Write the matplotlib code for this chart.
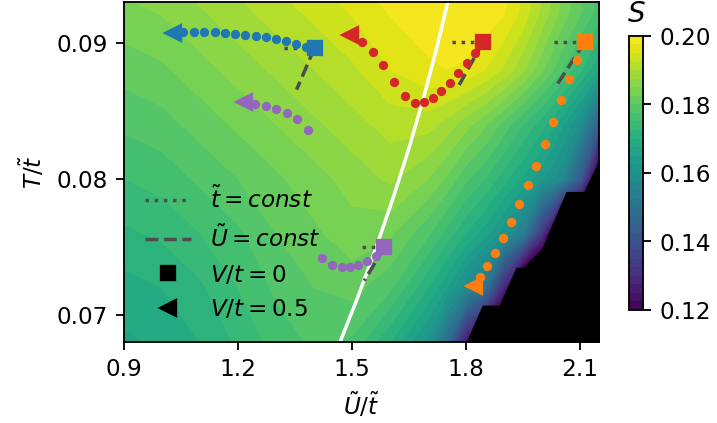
import numpy as np
import matplotlib
matplotlib.use('Agg')
import matplotlib.pyplot as plt
from matplotlib.lines import Line2D

# entropy map S(U/t, T/t) (rows = T, columns = U)
U_grid = [0.9, 1.0, 1.1, 1.2, 1.3, 1.4, 1.5, 1.6, 1.7, 1.75, 1.8, 1.85, 1.9,
          1.95, 2.0, 2.05, 2.1, 2.15, 2.2]
T_grid = [0.068, 0.072, 0.076, 0.080, 0.084, 0.088, 0.092, 0.096]
S_grid = [
    [0.167, 0.168, 0.170, 0.173, 0.176, 0.178, 0.177, 0.170, 0.161, 0.148, 0.124, 0.110, 0.100,
     0.090, 0.080, 0.070, 0.070, 0.070, 0.070],
    [0.169, 0.170, 0.172, 0.175, 0.178, 0.180, 0.181, 0.178, 0.170, 0.165, 0.158, 0.150, 0.128,
     0.100, 0.090, 0.090, 0.090, 0.090, 0.090],
    [0.172, 0.173, 0.175, 0.177, 0.180, 0.182, 0.184, 0.183, 0.178, 0.174, 0.170, 0.166, 0.161,
     0.154, 0.132, 0.100, 0.090, 0.090, 0.090],
    [0.175, 0.176, 0.178, 0.180, 0.182, 0.184, 0.186, 0.188, 0.185, 0.182, 0.178, 0.175, 0.171,
     0.167, 0.163, 0.158, 0.143, 0.110, 0.100],
    [0.178, 0.179, 0.181, 0.183, 0.185, 0.187, 0.189, 0.191, 0.191, 0.189, 0.186, 0.183, 0.179,
     0.175, 0.171, 0.166, 0.159, 0.143, 0.115],
    [0.181, 0.182, 0.184, 0.186, 0.188, 0.190, 0.192, 0.195, 0.197, 0.1975, 0.197, 0.195, 0.192,
     0.188, 0.183, 0.178, 0.173, 0.167, 0.157],
    [0.184, 0.185, 0.187, 0.189, 0.191, 0.193, 0.195, 0.1975, 0.199, 0.1993, 0.1993, 0.199, 0.1975,
     0.194, 0.189, 0.184, 0.180, 0.176, 0.172],
    [0.187, 0.188, 0.190, 0.192, 0.194, 0.196, 0.198, 0.1995, 0.1995, 0.1995, 0.1995, 0.1995, 0.1995,
     0.196, 0.192, 0.187, 0.183, 0.179, 0.175],
]

# edge of the region without data (black)
edge_U = [1.790, 1.8003, 1.8423, 1.8869, 1.9315, 1.9787, 2.0627, 2.1100, 2.1600]
edge_T = [0.0675, 0.0680, 0.07071, 0.07071, 0.07349, 0.07349, 0.07906, 0.07906, 0.0820]

# white boundary line
line_U = [1.459, 1.4696, 1.5131, 1.5616, 1.6068, 1.6486, 1.6866, 1.7215, 1.7530, 1.756]
line_T = [0.06749, 0.06808, 0.07115, 0.07482, 0.07848, 0.08214, 0.08580, 0.08947, 0.09313, 0.0934]

# trajectories: V/t = 0 ... 0.5
blue_U = [1.4013, 1.3777, 1.3514, 1.3252, 1.2990, 1.2727, 1.2465, 1.2176, 1.1913, 1.1651, 1.1388, 1.1100, 1.0837, 1.0549, 1.0286]
blue_T = [0.08961, 0.08969, 0.08990, 0.09012, 0.09027, 0.09042, 0.09049, 0.09056, 0.09064, 0.09071, 0.09078, 0.09078, 0.09078, 0.09078, 0.09071]
red_U = [1.8449, 1.8239, 1.8029, 1.7793, 1.7583, 1.7346, 1.7136, 1.6900, 1.6664, 1.6401, 1.6112, 1.5824, 1.5562, 1.5273, 1.4958]
red_T = [0.09005, 0.08925, 0.08851, 0.08778, 0.08705, 0.08646, 0.08595, 0.08566, 0.08558, 0.08610, 0.08712, 0.08837, 0.08932, 0.09005, 0.09056]
purple_U = [1.5850, 1.5640, 1.5404, 1.5168, 1.4958, 1.4722, 1.4459, 1.4197, 1.3829, 1.3540, 1.3278, 1.2990, 1.2727, 1.2438, 1.2150]
purple_T = [0.07496, 0.07430, 0.07394, 0.07364, 0.07349, 0.07349, 0.07364, 0.07416, 0.08360, 0.08441, 0.08485, 0.08514, 0.08536, 0.08551, 0.08566]
orange_U = [2.1126, 2.0916, 2.0706, 2.0496, 2.0286, 2.0076, 1.9840, 1.9630, 1.9394, 1.9184, 1.8974, 1.8764, 1.8554, 1.8370, 1.8213]
orange_T = [0.09005, 0.08873, 0.08734, 0.08580, 0.08419, 0.08258, 0.08096, 0.07950, 0.07811, 0.07679, 0.07562, 0.07452, 0.07357, 0.07276, 0.07211]

# end points of the t~=const (dotted) and U~=const (dashed) lines, same order
dotted_end_U = [1.3173, 1.7609, 1.527, 2.026]
dotted_end_T = [0.08961, 0.09005, 0.07496, 0.09005]
dashed_end_U = [1.3540, 1.7819, 1.532, 2.0391]
dashed_end_T = [0.08654, 0.0869, 0.0725, 0.0869]

plt.rcParams['font.size'] = 10

dpi = 166.75
fig = plt.figure(figsize=(717.2 / dpi, 423.2 / dpi), dpi=dpi)
ax = fig.add_axes([0.1729, 0.1915, 0.6625, 0.8038])
ax.set_facecolor('black')

levels = np.linspace(0.12, 0.20, 33)
cs = ax.contourf(U_grid, T_grid, S_grid, levels=levels, cmap='viridis')
ax.fill_betweenx(edge_T, edge_U, 2.3, color='black', lw=0)

ax.plot(line_U, line_T, color='white', lw=1.5)

tracks = [(blue_U, blue_T, 'tab:blue'), (red_U, red_T, 'tab:red'),
          (purple_U, purple_T, 'tab:purple'), (orange_U, orange_T, 'tab:orange')]

for i, (u, t, c) in enumerate(tracks):
    ax.plot([u[0], dotted_end_U[i]], [t[0], dotted_end_T[i]], ':', color='0.3', lw=1.5, zorder=3)
    ax.plot([u[0], dashed_end_U[i]], [t[0], dashed_end_T[i]], '--', color='0.3', lw=1.5, zorder=3)

for u, t, c in tracks:
    ax.plot(u[1:-1], t[1:-1], 'o', color=c, ms=3, zorder=4)
    ax.plot(u[0], t[0], 's', color=c, ms=6, zorder=5)
    ax.plot(u[-1], t[-1], '<', color=c, ms=7, zorder=5)

handles = [
    Line2D([], [], ls=':', color='0.3', lw=1.5),
    Line2D([], [], ls='--', color='0.3', lw=1.5),
    Line2D([], [], ls='none', marker='s', color='black', ms=6),
    Line2D([], [], ls='none', marker='<', color='black', ms=7),
]
labels = [r'$\tilde{t}=const$', r'$\tilde{U}=const$', r'$V/t=0$', r'$V/t=0.5$']
ax.legend(handles, labels, loc='lower left', frameon=False)

ax.set_xlim(0.9, 2.15)
ax.set_ylim(0.068, 0.093)
ax.set_xticks([0.9, 1.2, 1.5, 1.8, 2.1])
ax.set_yticks([0.07, 0.08, 0.09])
ax.set_xlabel(r'$\tilde{U}/\tilde{t}$')
ax.set_ylabel(r'$T/\tilde{t}$')

cax = fig.add_axes([0.8773, 0.2671, 0.0195, 0.6478])
cb = fig.colorbar(cs, cax=cax, ticks=[0.12, 0.14, 0.16, 0.18, 0.20], format='%.2f')
cax.set_title('$S$')

fig.savefig('out.png', dpi=dpi)
